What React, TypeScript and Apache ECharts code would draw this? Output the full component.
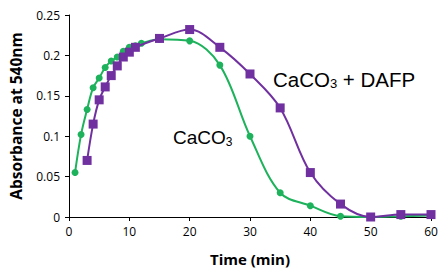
import React, { useEffect, useRef } from "react";
import * as echarts from "echarts";

const timeGreen = [1, 2, 3, 4, 5, 6, 7, 8, 9, 10, 11, 12, 15, 20, 25, 30, 35, 40, 45, 50, 55, 60];
const absGreen = [0.055, 0.102, 0.133, 0.16, 0.172, 0.185, 0.193, 0.198, 0.205, 0.21, 0.212, 0.215, 0.22, 0.218, 0.188, 0.1, 0.03, 0.014, 0.001, 0.0, 0.001, 0.002];
const timePurple = [3, 4, 5, 6, 7, 8, 9, 10, 11, 15, 20, 25, 30, 35, 40, 45, 50, 55, 60];
const absPurple = [0.07, 0.115, 0.145, 0.161, 0.175, 0.187, 0.198, 0.204, 0.21, 0.221, 0.232, 0.21, 0.177, 0.135, 0.055, 0.016, 0.0, 0.003, 0.003];
const labelCa = "CaCO";
const labelDafp = " + DAFP";

const GREEN = "#1DB25B";
const PURPLE = "#7030A0";
const FONT = "'Open Sans', 'Noto Sans', sans-serif";
const AFONT = "'Liberation Sans', Arial, sans-serif";

export default function App() {
  const ref = useRef<HTMLDivElement>(null);
  useEffect(() => {
    if (!ref.current) return;
    const chart = echarts.init(ref.current, null, { renderer: "svg" });
    const zip = (xs: number[], ys: number[]) => xs.map((x, i) => [x, ys[i]]);
    const rich = (size: number) => ({
      a: { fontFamily: AFONT, fontSize: size, fill: "#000" },
      s: { fontFamily: AFONT, fontSize: Math.round(size * 0.62), fill: "#000", padding: [Math.round(size * 0.45), 0, 0, 0] },
    });
    chart.setOption({
      animation: false,
      backgroundColor: "#fff",
      grid: { left: 67, right: 14, top: 15, bottom: 57 },
      xAxis: {
        type: "value",
        min: 0,
        max: 60,
        interval: 10,
        name: "Time (min)",
        nameLocation: "middle",
        nameGap: 34,
        nameTextStyle: { fontFamily: FONT, fontWeight: "bold", fontSize: 15, color: "#000" },
        axisLine: { lineStyle: { color: "#000", width: 1 } },
        axisTick: { show: true, inside: false, length: 4, lineStyle: { color: "#000" } },
        axisLabel: { fontFamily: FONT, fontSize: 12, color: "#000", margin: 8 },
        splitLine: { show: false },
      },
      yAxis: {
        type: "value",
        min: 0,
        max: 0.25,
        interval: 0.05,
        name: "Absorbance at 540nm",
        nameLocation: "middle",
        nameGap: 45,
        nameTextStyle: { fontFamily: FONT, fontWeight: "bold", fontSize: 15.5, color: "#000" },
        axisLine: { show: true, lineStyle: { color: "#000", width: 1 } },
        axisTick: { show: true, inside: false, length: 4, lineStyle: { color: "#000" } },
        axisLabel: { fontFamily: FONT, fontSize: 12, color: "#000", margin: 9 },
        splitLine: { show: false },
      },
      series: [
        {
          type: "line",
          data: zip(timeGreen, absGreen),
          smooth: 0.35,
          symbol: "circle",
          symbolSize: 7,
          lineStyle: { color: GREEN, width: 2 },
          itemStyle: { color: GREEN },
          z: 2,
        },
        {
          type: "line",
          data: zip(timePurple, absPurple),
          smooth: 0.35,
          symbol: "rect",
          symbolSize: 9,
          lineStyle: { color: PURPLE, width: 2 },
          itemStyle: { color: PURPLE },
          z: 3,
        },
      ],
      graphic: [
        {
          type: "text",
          x: 273,
          y: 79,
          style: {
            text: `{a|${labelCa}}{s|3}{a|${labelDafp}}`,
            verticalAlign: "middle",
            rich: rich(20.5),
          },
        },
        {
          type: "text",
          x: 173,
          y: 137,
          style: {
            text: `{a|${labelCa}}{s|3}`,
            verticalAlign: "middle",
            rich: rich(19),
          },
        },
      ],
    });
    return () => chart.dispose();
  }, []);
  return <div ref={ref} style={{ width: 445, height: 274, position: "absolute", left: 0, top: 0 }} />;
}
